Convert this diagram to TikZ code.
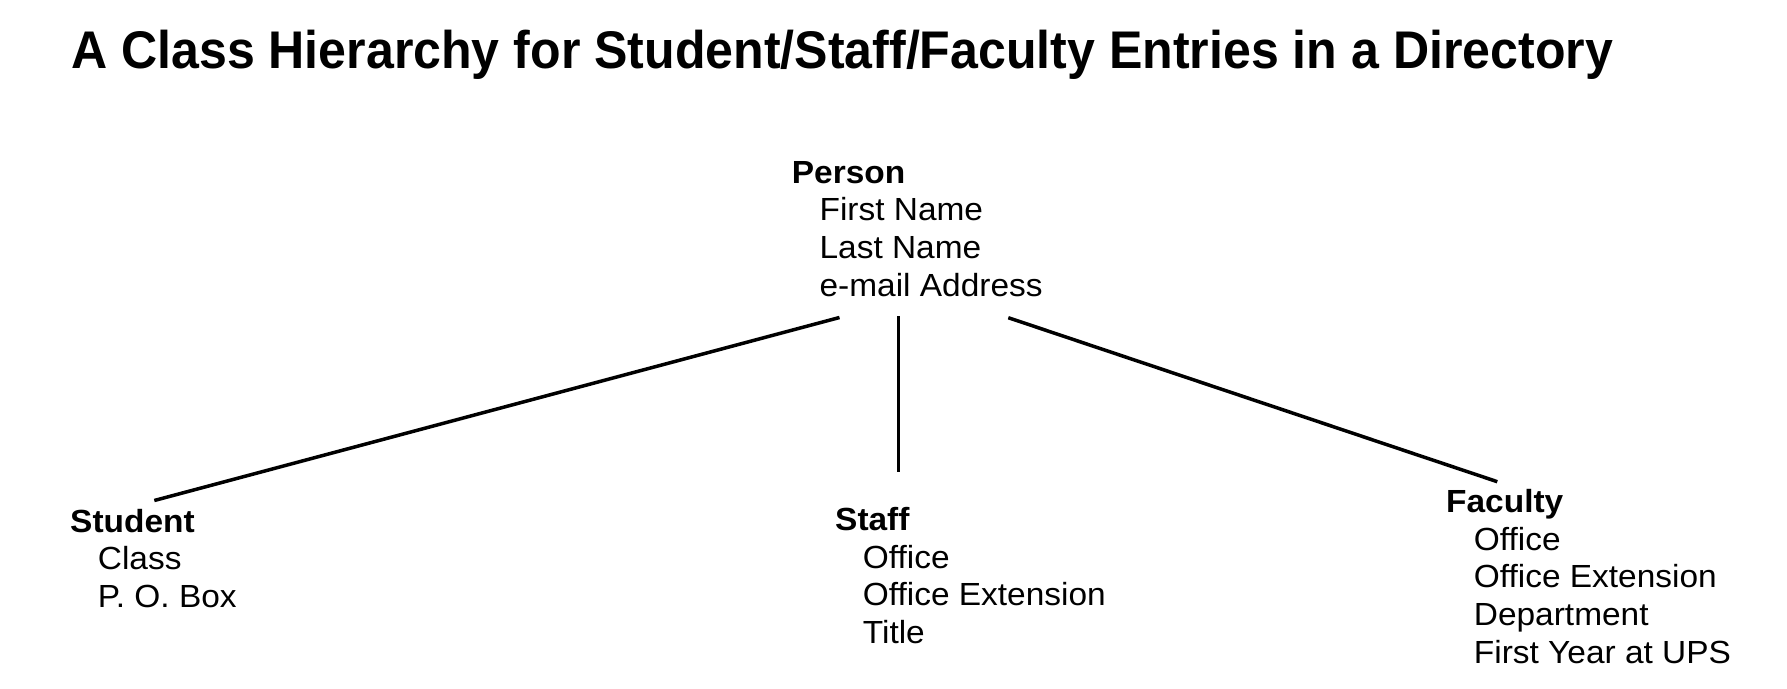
\documentclass[tikz,border=0pt]{standalone}
\usepackage{graphicx}
\usepackage{fontspec}
\setmainfont{Liberation Sans}
\begin{document}
\begin{tikzpicture}[x=1pt,y=-1pt,
  block/.style={anchor=base west,inner sep=0pt,font=\fontsize{32}{37.6}\selectfont},
  link/.style={line width=3.5pt}]
\useasboundingbox (0,0) rectangle (1787,688);
\node[anchor=base west,inner sep=0pt,font=\fontsize{53}{60}\selectfont\bfseries] (title) at (71,68.4)
  {\scalebox{0.945}[1]{A Class Hierarchy for Student/Staff/Faculty Entries in a Directory}};
\newcommand{\cls}[2]{\scalebox{1.045}[1]{\begin{tabular}[t]{@{}l@{}}\textbf{#1}\\#2\end{tabular}}}
\newcommand{\att}{\hspace*{26.5pt}}
\node[block] (person) at (791.7,183.3) {\cls{Person}{\att First Name\\\att Last Name\\\att e-mail Address}};
\node[block] (student) at (70,532.3) {\cls{Student}{\att Class\\\att P. O. Box}};
\node[block] (staff) at (835,530.7) {\cls{Staff}{\att Office\\\att Office Extension\\\att Title}};
\node[block] (faculty) at (1446,512.7) {\cls{Faculty}{\att Office\\\att Office Extension\\\att Department\\\att First Year at UPS}};
\coordinate (p1) at (839.5,317.5);
\coordinate (p2) at (898.3,316);
\coordinate (p3) at (1008.3,317.7);
\coordinate (s1) at (154.3,500.5);
\coordinate (s2) at (898.3,471.7);
\coordinate (s3) at (1497.3,481.7);
\draw[link] (p1) -- (s1);
\draw[link] (p2) -- (s2);
\draw[link] (p3) -- (s3);
\end{tikzpicture}
\end{document}
